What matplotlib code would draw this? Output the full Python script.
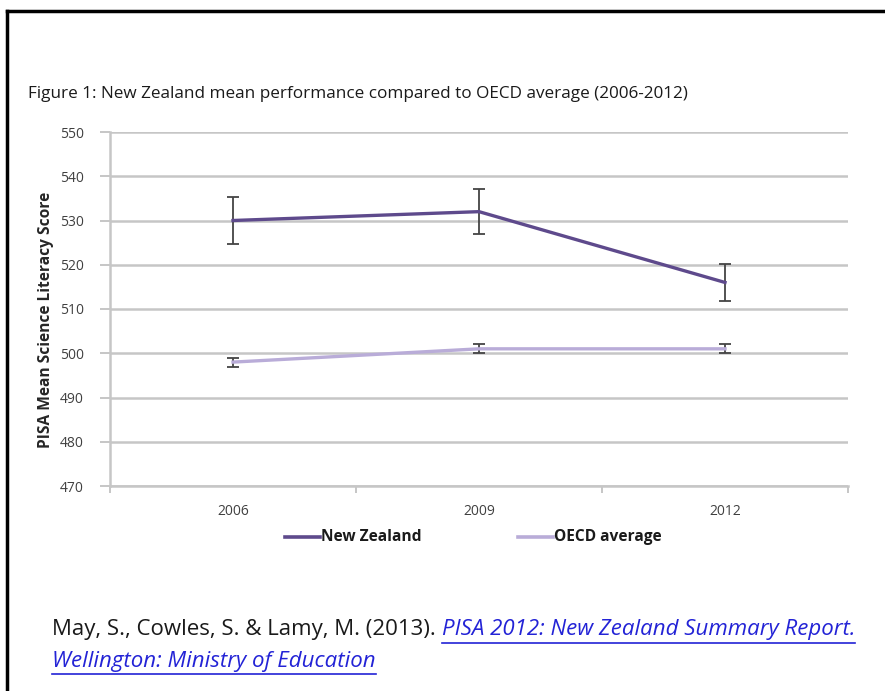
import numpy as np
import matplotlib
matplotlib.use("Agg")
import matplotlib.pyplot as plt
from matplotlib.lines import Line2D

# data
years = ["2006", "2009", "2012"]
nz_scores = [530, 532, 516]
nz_err = [5.3, 5.1, 4.1]
oecd_scores = [498, 501, 501]
oecd_err = [1.0, 1.0, 1.0]
y_ticks = [470, 480, 490, 500, 510, 520, 530, 540, 550]

nz_color = "#5e4a8c"
oecd_color = "#b9acd8"
err_color = "#444444"
grid_color = "#c6c6c6"
link_color = "#2323d6"
W, H = 885, 691

plt.rcParams["font.family"] = ["Open Sans", "DejaVu Sans"]

fig = plt.figure(figsize=(W / 100, H / 100), dpi=100)
ax = fig.add_axes([110 / W, 1 - 486 / H, 738 / W, 354 / H])

x = np.arange(len(years))

ax.errorbar(x, oecd_scores, yerr=oecd_err, color=oecd_color, lw=2.4,
            ecolor=err_color, elinewidth=1.3, capsize=4, capthick=1.3, zorder=3)
ax.errorbar(x, nz_scores, yerr=nz_err, color=nz_color, lw=2.4,
            ecolor=err_color, elinewidth=1.3, capsize=4, capthick=1.3, zorder=4)

ax.set_xlim(-0.5, len(years) - 0.5)
ax.set_ylim(470, 550)
ax.set_yticks(y_ticks)
ax.set_yticklabels([str(v) for v in y_ticks], fontsize=10, color="#404040")
ax.yaxis.grid(True, color=grid_color, lw=1.8)
ax.set_axisbelow(True)

# category boundaries as major ticks, labels on minor ticks
ax.set_xticks(np.arange(len(years) + 1) - 0.5)
ax.set_xticklabels([])
ax.set_xticks(x, minor=True)
ax.set_xticklabels(years, minor=True, fontsize=10, color="#404040")
ax.tick_params(axis="x", which="major", length=5, color=grid_color, width=1.4)
ax.tick_params(axis="x", which="minor", length=0, pad=13)
ax.tick_params(axis="y", length=7, color=grid_color, width=1.4, pad=12)

for side in ["top", "right"]:
    ax.spines[side].set_visible(False)
for side in ["left", "bottom"]:
    ax.spines[side].set_color(grid_color)
    ax.spines[side].set_linewidth(1.8)

ax.set_ylabel("PISA Mean Science Literacy Score", fontsize=11.2,
              fontweight="bold", color="#262626")
ax.yaxis.set_label_coords(-0.076, 0.47)

fig.text(28 / W, 1 - 94 / H,
         "Figure 1: New Zealand mean performance compared to OECD average (2006-2012)",
         fontsize=12.3, color="#1a1a1a", va="center", ha="left")

# legend drawn below the axis
legend_items = [("New Zealand", nz_color, 285), ("OECD average", oecd_color, 518)]
for label, col, x0 in legend_items:
    fig.add_artist(Line2D([x0 / W, (x0 + 35) / W], [1 - 537 / H] * 2,
                          color=col, lw=2.6))
    fig.text((x0 + 36) / W, 1 - 537 / H, label, fontsize=11.2,
             fontweight="bold", color="#1a1a1a", va="center", ha="left")

# citation with underlined link
fig.canvas.draw()
renderer = fig.canvas.get_renderer()
t1 = fig.text(52 / W, 1 - 630 / H, "May, S., Cowles, S. & Lamy, M. (2013). ",
              fontsize=16, color="#1a1a1a", va="center", ha="left")
x1 = t1.get_window_extent(renderer).x1 / W
t2 = fig.text(x1, 1 - 630 / H, "PISA 2012: New Zealand Summary Report.",
              fontsize=16, color=link_color, style="italic", va="center", ha="left")
t3 = fig.text(52 / W, 1 - 661 / H, "Wellington: Ministry of Education",
              fontsize=16, color=link_color, style="italic", va="center", ha="left")
for t, yy in [(t2, 643), (t3, 674)]:
    bb = t.get_window_extent(renderer)
    fig.add_artist(Line2D([bb.x0 / W, bb.x1 / W], [1 - yy / H] * 2,
                          color=link_color, lw=1.2))

# outer frame: top and left edges
fig.add_artist(Line2D([7 / W, 1], [1 - 11 / H] * 2, color="black", lw=2.5))
fig.add_artist(Line2D([7 / W] * 2, [0, 1 - 11 / H], color="black", lw=2.5))

fig.savefig("out.png", dpi=100, facecolor="white")
